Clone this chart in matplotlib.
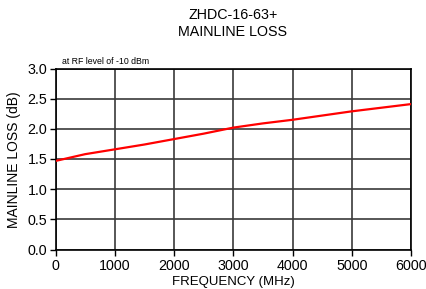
import numpy as np
import matplotlib
matplotlib.use('Agg')
import matplotlib.pyplot as plt

plt.rcParams['font.family'] = ['Liberation Sans', 'DejaVu Sans']

# valeurs
freq = [10, 500, 1000, 1500, 2000, 2500, 3000, 3500, 4000, 4500, 5000, 5500, 6000]
loss = [1.47, 1.58, 1.66, 1.74, 1.83, 1.92, 2.02, 2.09, 2.15, 2.22, 2.29, 2.35, 2.41]
xticks = [0, 1000, 2000, 3000, 4000, 5000, 6000]
yticks = [0.0, 0.5, 1.0, 1.5, 2.0, 2.5, 3.0]

fig = plt.figure(figsize=(4.26, 2.89), dpi=100)
ax = fig.add_axes([55.5/426, 1 - 249.5/289, (411 - 55.5)/426, (249.5 - 68.5)/289])

ax.plot(freq, loss, color='#ff0000', linewidth=1.6, zorder=3)
ax.set_xlim(0, 6000)
ax.set_ylim(0, 3.0)
ax.set_xticks(xticks)
ax.set_yticks(yticks)
ax.set_yticklabels(['%.1f' % v for v in yticks])
ax.grid(True, color='#3a3a3a', linewidth=1.2)
for s in ax.spines.values():
    s.set_color('black')
    s.set_linewidth(1.2)
ax.tick_params(labelsize=10.3, length=4, width=1, colors='black', pad=2)
ax.tick_params(axis='x', pad=3)

# titre de l'axe x en bas de la figure (coupe dans l'original)
fig.text(233/426, 0.5/289, 'FREQUENCY (MHz)', ha='center', va='bottom', fontsize=9.5)
fig.text(14/426, 1 - 160/289, 'MAINLINE LOSS (dB)', ha='center', va='center',
         rotation=90, fontsize=10)
fig.text(233/426, 1 - 15/289, 'ZHDC-16-63+', ha='center', va='center', fontsize=10.3)
fig.text(233/426, 1 - 32/289, 'MAINLINE LOSS', ha='center', va='center', fontsize=10.3)
fig.text(62/426, 1 - 62/289, 'at RF level of -10 dBm', ha='left', va='center', fontsize=6.3)

fig.savefig('out.png', dpi=100)
